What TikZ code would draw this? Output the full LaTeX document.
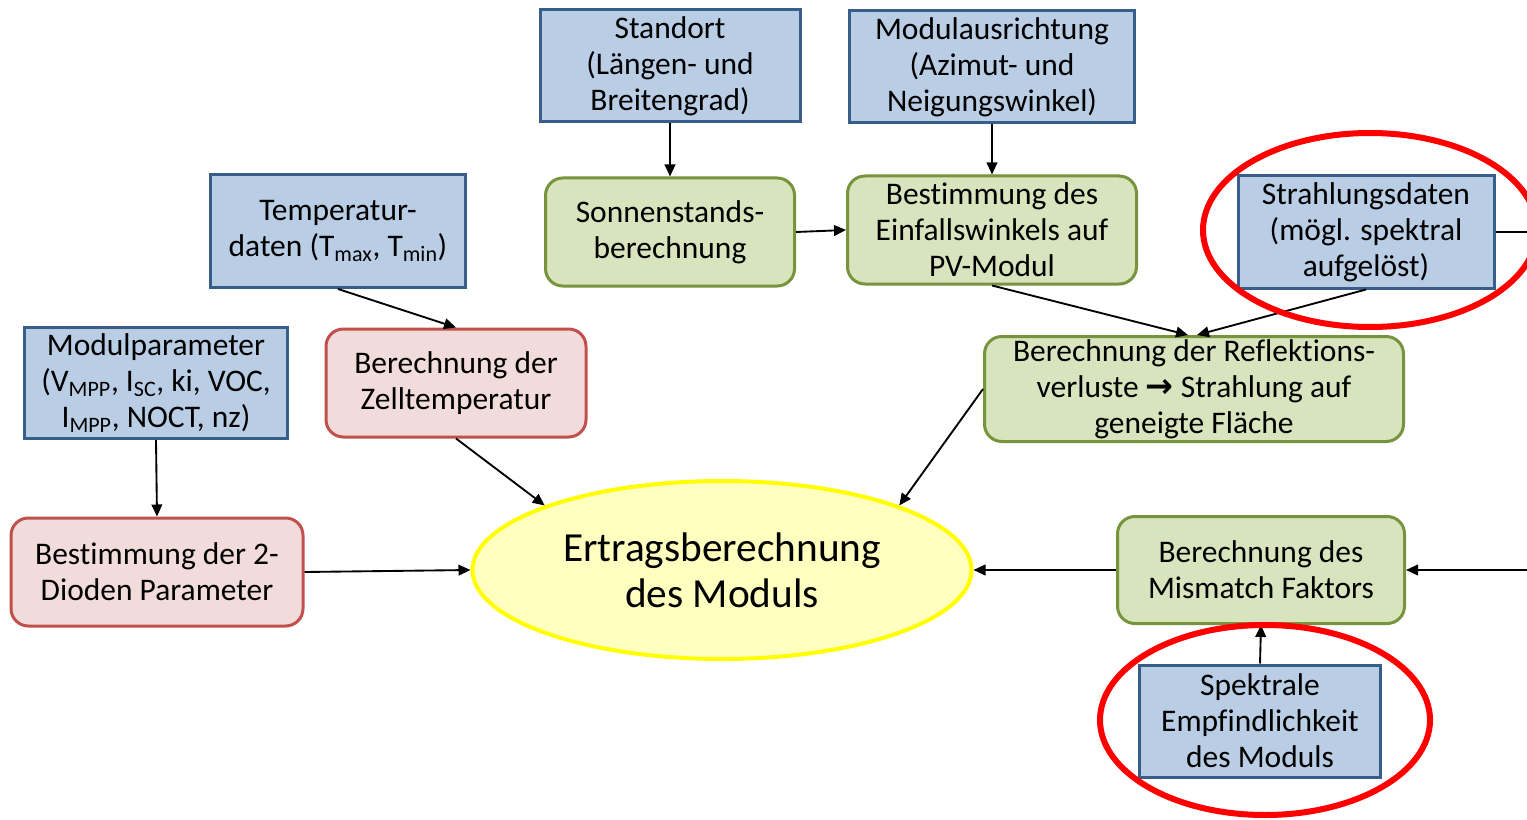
\documentclass[tikz,border=0pt]{standalone}
\usepackage{fontspec}
\setmainfont{Carlito}[Ligatures={NoCommon}]
\newfontfamily\dejavu{DejaVu Sans}
\usetikzlibrary{shapes.geometric,arrows.meta,calc}
\definecolor{bfill}{HTML}{B9CDE5}
\definecolor{bdraw}{HTML}{385D8A}
\definecolor{gfill}{HTML}{D7E4BD}
\definecolor{gdraw}{HTML}{77933C}
\definecolor{rfill}{HTML}{F2DCDB}
\definecolor{rdraw}{HTML}{C0504D}
\definecolor{yfill}{HTML}{FFFFC0}
\definecolor{ydraw}{HTML}{FFFF00}
\begin{document}
\begin{tikzpicture}[x=0.75pt,y=-0.75pt,
  base/.style={align=center,inner sep=0pt,font=\fontsize{23.6}{27}\selectfont,line width=2.25pt},
  bluebox/.style={base,rectangle,fill=bfill,draw=bdraw},
  greenbox/.style={base,rectangle,rounded corners=13pt,fill=gfill,draw=gdraw},
  redbox/.style={base,rectangle,rounded corners=13pt,fill=rfill,draw=rdraw},
  conn/.style={line width=1.4pt,-{Triangle[length=9pt,width=8pt]}},
  plainline/.style={line width=1.4pt},
  highlight/.style={draw=red,line width=4.5pt}
]
\useasboundingbox (0,0) rectangle (1527,820);
\clip (0,0) rectangle (1527,820);

\node[bluebox,minimum width=195pt,minimum height=84pt] (std) at (670,66) {Standort\\(Längen- und\\Breitengrad)};
\node[bluebox,minimum width=213.75pt,minimum height=84pt] (mod) at (992,67) {Modulausrichtung\\(Azimut- und\\Neigungswinkel)};
\node[greenbox,minimum width=186.75pt,minimum height=81pt] (son) at (670,232) {Sonnenstands-\\berechnung};
\node[greenbox,minimum width=216.75pt,minimum height=81pt] (ein) at (992,230) {Bestimmung des\\Einfallswinkels auf\\PV-Modul};
\node[bluebox,minimum width=192pt,minimum height=84pt] (str) at (1366,232) {Strahlungsdaten\\(mögl. spektral\\aufgelöst)};
\node[bluebox,minimum width=191.25pt,minimum height=84.75pt] (tmp) at (338,231) {Temperatur-\\daten (T\textsubscript{max}, T\textsubscript{min})};
\node[bluebox,minimum width=197.25pt,minimum height=83.25pt] (par) at (156,383) {Modulparameter\\(V\textsubscript{MPP}, I\textsubscript{SC}, ki, VOC,\\I\textsubscript{MPP}, NOCT, nz)};
\node[redbox,minimum width=195pt,minimum height=81pt] (zel) at (456,383) {Berechnung der\\Zelltemperatur};
\node[greenbox,minimum width=314.25pt,minimum height=78.75pt] (ref) at (1194,389) {Berechnung der Reflektions-\\verluste {\dejavu\bfseries\fontsize{25}{27}\selectfont →} Strahlung auf\\geneigte Fläche};
\node[redbox,minimum width=219pt,minimum height=81pt] (dio) at (157,572) {Bestimmung der 2-\\Dioden Parameter};
\node[ellipse,draw=ydraw,fill=yfill,line width=3pt,inner sep=0pt,minimum width=374.25pt,minimum height=133.5pt,align=center,font=\fontsize{31}{34.5}\selectfont] (ell) at (722,570) {Ertragsberechnung\\des Moduls};
\node[greenbox,minimum width=215.25pt,minimum height=80.25pt] (mis) at (1261,570) {Berechnung des\\Mismatch Faktors};
\node[bluebox,minimum width=180.75pt,minimum height=84pt] (spe) at (1260,721) {Spektrale\\Empfindlichkeit\\des Moduls};

\draw[conn] (std.south) -- (son.north);
\draw[conn] (mod.south) -- (ein.north);
\draw[conn] (son.east) -- (ein.west);
\draw[conn] (ein.south) -- ($(ref.north)+(-6,0)$);
\draw[conn] (str.south) -- ($(ref.north)+(3,0)$);
\draw[conn] (tmp.south) -- (zel.north);
\draw[conn] (par.south) -- (dio.north);
\draw[conn] (zel.south) -- (ell.160);
\draw[conn] (dio.east) -- (ell.west);
\draw[conn] (ref.west) -- (ell.20);
\draw[conn] (mis.west) -- (ell.east);
\draw[conn] (spe.north) -- (mis.south);
\coordinate (out) at (1560,232);
\draw[plainline] (str.east) -- (out);
\draw[conn] (out) |- (mis.east);

\draw[highlight] (1370,230) ellipse [x radius=167, y radius=97];
\draw[highlight] (1265,720) ellipse [x radius=165, y radius=95];
\end{tikzpicture}
\end{document}
